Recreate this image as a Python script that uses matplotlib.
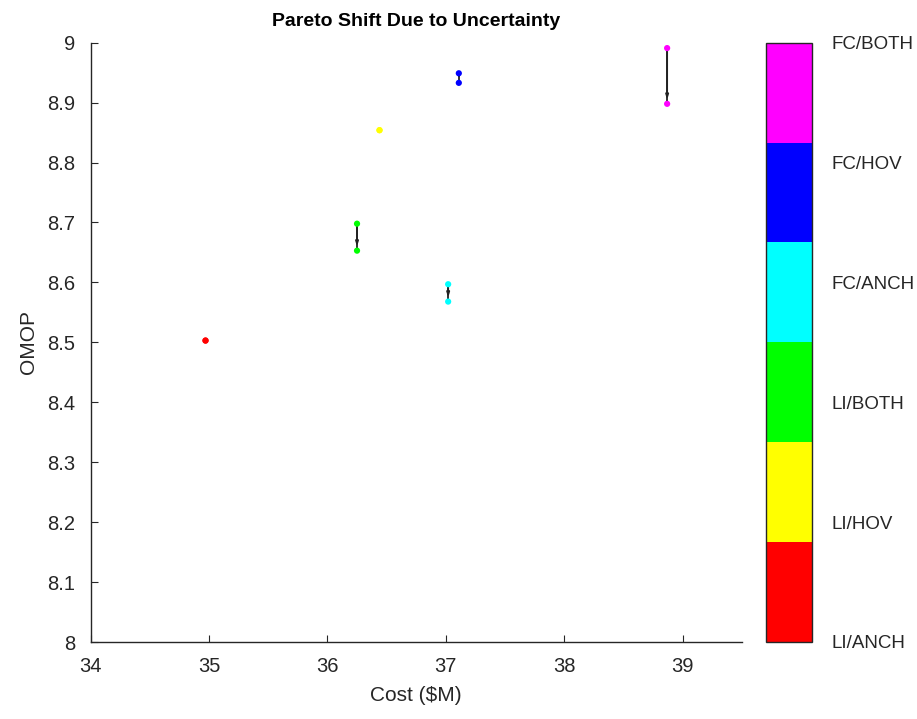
import matplotlib
matplotlib.use("Agg")
import matplotlib.pyplot as plt
from matplotlib.colors import ListedColormap, Normalize
import matplotlib.cm as cm

plt.rcParams['font.family'] = ['Liberation Sans', 'DejaVu Sans']

configs = ['LI/ANCH', 'LI/HOV', 'LI/BOTH', 'FC/ANCH', 'FC/HOV', 'FC/BOTH']
colors = ['#ff0000', '#ffff00', '#00ff00', '#00ffff', '#0000ff', '#ff00ff']
# nominal (start) and shifted (end) design points
cost_start = [34.97, 36.44, 36.25, 37.02, 37.11, 38.87]
omop_start = [8.503, 8.854, 8.698, 8.597, 8.949, 8.991]
cost_end = [34.97, 36.44, 36.25, 37.02, 37.11, 38.87]
omop_end = [8.503, 8.854, 8.653, 8.568, 8.933, 8.898]

W, H = 917, 719
fig = plt.figure(figsize=(W/100, H/100), dpi=100)
ax = fig.add_axes([90.7/W, 1-642/H, (741.7-90.7)/W, (642-42.7)/H])
cax = fig.add_axes([765.7/W, 1-642/H, 46/W, (642-42.7)/H])

tc = '#262626'
for i in range(len(configs)):
    if omop_start[i] != omop_end[i] or cost_start[i] != cost_end[i]:
        ax.plot([cost_start[i], cost_end[i]], [omop_start[i], omop_end[i]],
                color='#222222', lw=1.3, zorder=2)
        ax.annotate('', xy=(cost_end[i], omop_end[i]), xytext=(cost_start[i], omop_start[i]),
                    arrowprops=dict(arrowstyle='-|>,head_length=0.25,head_width=0.08',
                                    color='#222222', lw=1.3, shrinkA=0, shrinkB=3),
                    zorder=2)
    ax.scatter([cost_start[i], cost_end[i]], [omop_start[i], omop_end[i]],
               s=20, color=colors[i], edgecolors='none', zorder=3)

ax.set_xlim(34, 39.5)
ax.set_ylim(8, 9)
ax.set_xticks([34, 35, 36, 37, 38, 39])
ax.set_yticks([8 + 0.1*k for k in range(11)])
ax.set_yticklabels(['8', '8.1', '8.2', '8.3', '8.4', '8.5', '8.6', '8.7', '8.8', '8.9', '9'])
ax.spines['top'].set_visible(False)
ax.spines['right'].set_visible(False)
for s in ['left', 'bottom']:
    ax.spines[s].set_color(tc)
    ax.spines[s].set_linewidth(1.0)
ax.tick_params(direction='in', length=5, colors=tc, labelsize=14.5)
ax.tick_params(axis='x', pad=11)
ax.tick_params(axis='y', pad=11)
ax.set_xlabel('Cost ($M)', fontsize=15, color=tc, labelpad=7)
ax.set_ylabel('OMOP', fontsize=15, color=tc, labelpad=7)
ax.set_title('Pareto Shift Due to Uncertainty', fontsize=14, fontweight='bold', color='black', pad=12)

cmap = ListedColormap(colors)
sm = cm.ScalarMappable(norm=Normalize(vmin=1, vmax=6), cmap=cmap)
cb = fig.colorbar(sm, cax=cax, ticks=[1, 2, 3, 4, 5, 6])
cb.set_ticklabels(configs)
cb.ax.tick_params(length=0, labelsize=13.5, colors=tc, pad=14)
cb.outline.set_edgecolor('#262626')
cb.outline.set_linewidth(1.0)

fig.savefig('out.png', dpi=100)
